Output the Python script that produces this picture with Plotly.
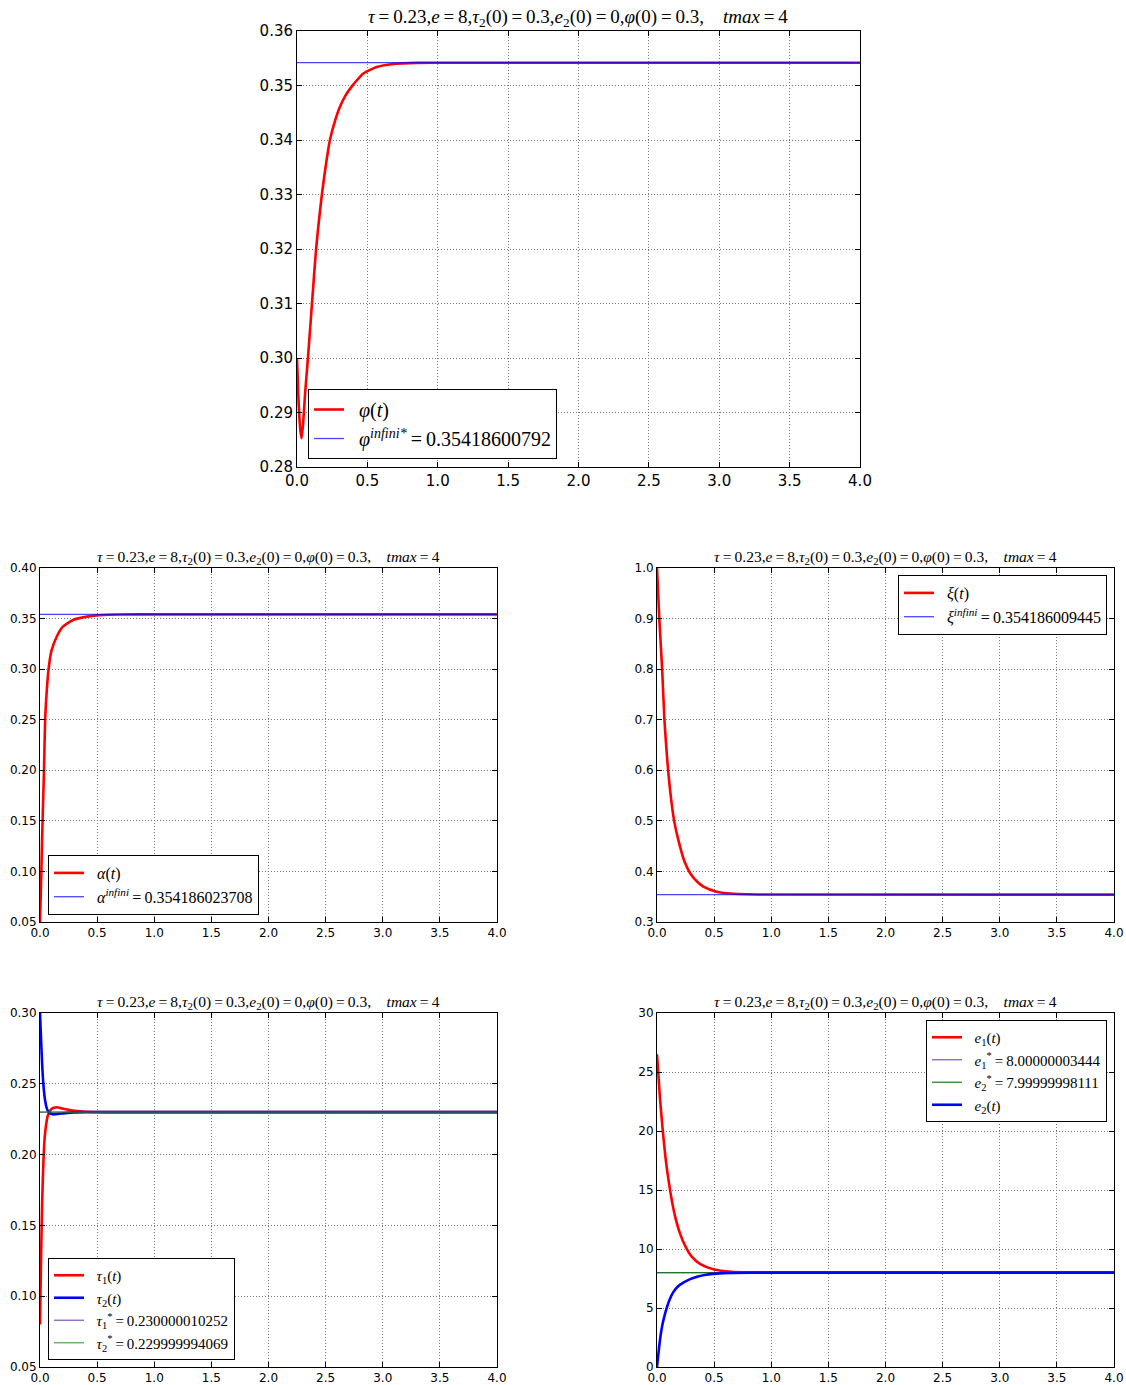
import plotly.graph_objects as go

# ---------------- data ----------------
t_phi = [0, 0.008, 0.016, 0.025, 0.033, 0.045, 0.057, 0.07, 0.085, 0.109, 0.135, 0.155,
         0.175, 0.2, 0.234, 0.27, 0.305, 0.345, 0.388, 0.43, 0.471, 0.566, 0.7, 0.85, 1.0, 4.0]
phi = [0.300, 0.294, 0.2895, 0.2865, 0.2853, 0.2885, 0.2933, 0.2975, 0.3025, 0.3109, 0.3198, 0.3250,
       0.3296, 0.3345, 0.3400, 0.3435, 0.3461, 0.3482, 0.3498, 0.3511, 0.3522, 0.3534, 0.3540, 0.35415, 0.35418, 0.354186]
phi_inf = 0.35418600792

t_alpha = [0, 0.006, 0.012, 0.018, 0.025, 0.035, 0.045, 0.06, 0.075, 0.1, 0.146, 0.2, 0.29, 0.41, 0.55, 0.7, 1.0, 4.0]
alpha = [0.05, 0.075, 0.10, 0.13, 0.16, 0.20, 0.25, 0.28, 0.30, 0.318, 0.332, 0.342, 0.3486, 0.3519, 0.3536, 0.35405, 0.35418, 0.354186]
alpha_inf = 0.354186023708

t_xi = [0, 0.02, 0.045, 0.065, 0.09, 0.12, 0.15, 0.187, 0.24, 0.289, 0.35, 0.406, 0.522, 0.65, 0.8, 1.0, 4.0]
xi = [1.0, 0.90, 0.80, 0.70, 0.62, 0.55, 0.50, 0.462, 0.42, 0.397, 0.38, 0.37, 0.36, 0.3563, 0.3548, 0.3543, 0.354186]
xi_inf = 0.354186009445

t_tau = [0, 0.01, 0.02, 0.03, 0.04, 0.055, 0.07, 0.1, 0.146, 0.2, 0.3, 0.4, 0.6, 4.0]
tau1 = [0.08, 0.13, 0.17, 0.195, 0.211, 0.222, 0.228, 0.2322, 0.2334, 0.2325, 0.2310, 0.2303, 0.2300, 0.2300]
t_tau2 = [0, 0.01, 0.02, 0.03, 0.045, 0.06, 0.08, 0.117, 0.16, 0.22, 0.3, 0.4, 0.6, 4.0]
tau2 = [0.30, 0.28, 0.262, 0.249, 0.238, 0.2325, 0.2295, 0.2284, 0.2287, 0.2293, 0.2298, 0.2300, 0.2300, 0.2300]
tau1_star = 0.230000010252
tau2_star = 0.229999994069

t_e1 = [0, 0.025, 0.05, 0.075, 0.1, 0.13, 0.16, 0.2, 0.25, 0.3, 0.38, 0.5, 0.65, 0.8, 1.0, 4.0]
e1 = [26.5, 22.9, 20.1, 17.7, 15.9, 14.1, 12.7, 11.35, 10.2, 9.4, 8.72, 8.26, 8.07, 8.02, 8.0, 8.0]
t_e2 = [0, 0.01, 0.02, 0.035, 0.05, 0.07, 0.085, 0.11, 0.14, 0.18, 0.23, 0.29, 0.35, 0.43, 0.52, 0.65, 0.8, 1.0, 4.0]
e2 = [0, 0.9, 1.8, 2.9, 3.7, 4.5, 5.0, 5.7, 6.3, 6.8, 7.15, 7.45, 7.65, 7.82, 7.91, 7.97, 7.99, 8.0, 8.0]
e1_star = 8.00000003444
e2_star = 7.99999998111

t_range = [0, 4]

# ---------------- style ----------------
RED = "#ff0000"
BLUE = "#0000ff"
BLUE_T = "rgba(0,0,255,0.72)"
PURPLE = "rgba(110,70,170,0.85)"
GREEN_T = "rgba(0,128,0,0.65)"
GREEN = "rgba(20,120,20,0.9)"
SERIF = "Liberation Serif"
SANS = "DejaVu Sans"

W, H = 1126, 1385


def px_x(p):
    return p / W


def px_y(p):
    return 1 - p / H


EQ = "\u2009=\u2009"
SP = "\u2002"
title_txt = ("<i>τ</i>" + EQ + "0.23,<i>e</i>" + EQ + "8,<i>τ</i><sub>2</sub>(0)" + EQ + "0.3,"
             "<i>e</i><sub>2</sub>(0)" + EQ + "0,<i>φ</i>(0)" + EQ + "0.3,\u2003<i>tmax</i>" + EQ + "4")

fig = go.Figure()

panels = {
    1: dict(xd=(297, 860), yd=(31, 467), yr=(0.28, 0.36), dt=0.01, fmt=".2f", fs=15, tfs=19),
    2: dict(xd=(40, 497), yd=(568, 922), yr=(0.05, 0.40), dt=0.05, fmt=".2f", fs=12, tfs=15.5),
    3: dict(xd=(657, 1114), yd=(568, 922), yr=(0.3, 1.0), dt=0.1, fmt=".1f", fs=12, tfs=15.5),
    4: dict(xd=(40, 497), yd=(1013, 1367), yr=(0.05, 0.30), dt=0.05, fmt=".2f", fs=12, tfs=15.5),
    5: dict(xd=(657, 1114), yd=(1013, 1367), yr=(0, 30), dt=5, fmt="d", fs=12, tfs=15.5),
}

layout = dict(width=W, height=H, autosize=False, margin=dict(l=0, r=0, t=0, b=0, pad=0),
              paper_bgcolor="white", plot_bgcolor="white", annotations=[])

for k, p in panels.items():
    xs = "xaxis" if k == 1 else f"xaxis{k}"
    ys = "yaxis" if k == 1 else f"yaxis{k}"
    anchor_x = "y" if k == 1 else f"y{k}"
    anchor_y = "x" if k == 1 else f"x{k}"
    common = dict(showline=True, linecolor="black", linewidth=1, mirror="allticks",
                  ticks="inside", ticklen=5, tickcolor="black", tickwidth=1,
                  showgrid=True, gridcolor="#7a7a7a", griddash="1px,2px", gridwidth=1,
                  zeroline=False, automargin=False,
                  tickfont=dict(family=SANS, size=p["fs"], color="black"))
    layout[xs] = dict(domain=[px_x(p["xd"][0]), px_x(p["xd"][1])], anchor=anchor_x,
                      range=t_range, dtick=0.5, tick0=0, tickformat=".1f", **common)
    layout[ys] = dict(domain=[px_y(p["yd"][1]), px_y(p["yd"][0])], anchor=anchor_y,
                      range=list(p["yr"]), dtick=p["dt"], tick0=p["yr"][0], tickformat=p["fmt"], **common)
    layout["annotations"].append(dict(
        text=title_txt, xref="paper", yref="paper",
        x=px_x((p["xd"][0] + p["xd"][1]) / 2), y=px_y(p["yd"][0] + 1),
        xanchor="center", yanchor="bottom", showarrow=False,
        font=dict(family=SERIF, size=p["tfs"], color="black")))


def add(k, x, y, name, color, width, legend, group):
    xa = "x" if k == 1 else f"x{k}"
    ya = "y" if k == 1 else f"y{k}"
    fig.add_trace(go.Scatter(x=x, y=y, mode="lines", name=SP + name, xaxis=xa, yaxis=ya,
                             line=dict(color=color, width=width, shape="spline", smoothing=0.6),
                             legend=legend, legendgroup=group, showlegend=True))


add(1, t_phi, phi, "<i>φ</i>(<i>t</i>)", RED, 2.6, "legend", "a1")
add(1, t_range, [phi_inf, phi_inf], "<i>φ</i><sup><i>infini*</i></sup>" + EQ + str(phi_inf), BLUE_T, 1.3, "legend", "a2")

add(2, t_alpha, alpha, "<i>α</i>(<i>t</i>)", RED, 2.6, "legend2", "b1")
add(2, t_range, [alpha_inf, alpha_inf], "<i>α</i><sup><i>infini</i></sup>" + EQ + str(alpha_inf), BLUE_T, 1.3, "legend2", "b2")

add(3, t_xi, xi, "<i>ξ</i>(<i>t</i>)", RED, 2.6, "legend3", "c1")
add(3, t_range, [xi_inf, xi_inf], "<i>ξ</i><sup><i>infini</i></sup>" + EQ + str(xi_inf), BLUE_T, 1.3, "legend3", "c2")

add(4, t_tau, tau1, "<i>τ</i><sub>1</sub>(<i>t</i>)", RED, 2.6, "legend4", "d1")
add(4, t_tau2, tau2, "<i>τ</i><sub>2</sub>(<i>t</i>)", BLUE, 2.6, "legend4", "d2")
add(4, t_range, [tau1_star, tau1_star], "<i>τ</i><sub>1</sub><sup>*</sup>" + EQ + str(tau1_star), PURPLE, 1.3, "legend4", "d3")
add(4, t_range, [tau2_star, tau2_star], "<i>τ</i><sub>2</sub><sup>*</sup>" + EQ + str(tau2_star), GREEN_T, 1.3, "legend4", "d4")

add(5, t_e1, e1, "<i>e</i><sub>1</sub>(<i>t</i>)", RED, 2.6, "legend5", "e1")
add(5, t_range, [e1_star, e1_star], "<i>e</i><sub>1</sub><sup>*</sup>" + EQ + str(e1_star), PURPLE, 1.3, "legend5", "e2")
add(5, t_range, [e2_star, e2_star], "<i>e</i><sub>2</sub><sup>*</sup>" + EQ + str(e2_star), GREEN, 1.3, "legend5", "e3")
add(5, t_e2, e2, "<i>e</i><sub>2</sub>(<i>t</i>)", BLUE, 2.6, "legend5", "e4")


def leg(x, y, xa, ya, size, gap):
    return dict(x=x, y=y, xanchor=xa, yanchor=ya, xref="paper", yref="paper",
                bgcolor="white", bordercolor="black", borderwidth=1,
                font=dict(family=SERIF, size=size, color="black"),
                tracegroupgap=gap, itemwidth=30, traceorder="normal")


layout["legend"] = leg(px_x(308), px_y(459), "left", "bottom", 20, 7)
layout["legend2"] = leg(px_x(48), px_y(915), "left", "bottom", 16, 3)
layout["legend3"] = leg(px_x(1107), px_y(575), "right", "top", 16, 3)
layout["legend4"] = leg(px_x(48), px_y(1360), "left", "bottom", 15, 4)
layout["legend5"] = leg(px_x(1107), px_y(1020), "right", "top", 15, 4)

fig.update_layout(**layout)
fig.write_html("out.html", config={"displayModeBar": False},
               post_script="document.body.style.margin='0';document.body.style.overflow='hidden';")
